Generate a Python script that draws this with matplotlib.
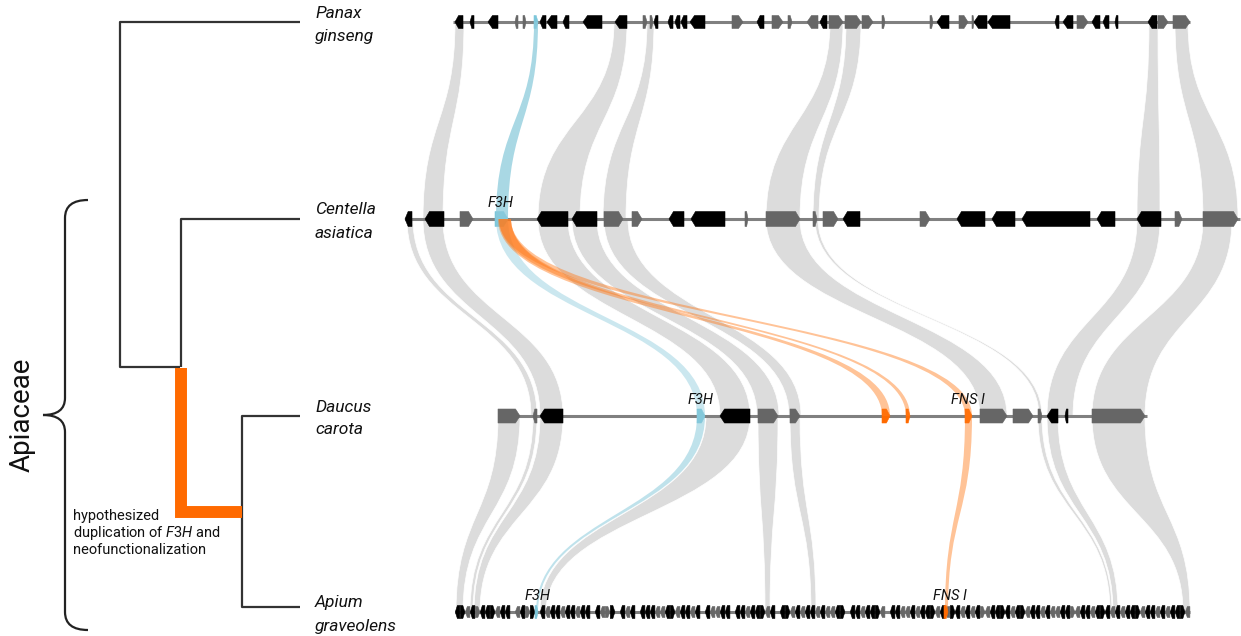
import matplotlib
matplotlib.use('Agg')
import matplotlib.pyplot as plt
from matplotlib.path import Path
from matplotlib.patches import PathPatch, Polygon

plt.rcParams['font.family'] = ['Roboto', 'DejaVu Sans']
plt.rcParams['mathtext.fontset'] = 'custom'
plt.rcParams['mathtext.rm'] = 'Roboto'
plt.rcParams['mathtext.it'] = 'Roboto:italic'

# ---------------- data ----------------
species = ['Panax\nginseng', 'Centella\nasiatica', 'Daucus\ncarota', 'Apium\ngraveolens']
track_span = [(453, 1190), (405, 1240), (498, 1147), (455, 1190)]

# genes: (start, end, strand, colour-code)  k=black g=grey b=F3H o=FNS I
panax_genes = [
    (455, 463, -1, 'k'), (470, 474, -1, 'k'), (488, 498, -1, 'k'), (515, 518, -1, 'g'),
    (523, 526, 1, 'g'), (534, 538, 1, 'b'), (540, 546, -1, 'k'), (547, 557, -1, 'k'),
    (563, 569, -1, 'k'), (583, 602, -1, 'k'), (615, 627, -1, 'k'), (643, 647, 1, 'g'),
    (650, 653, 1, 'g'), (654, 658, -1, 'k'), (668, 673, -1, 'k'), (675, 680, -1, 'k'),
    (681, 687, -1, 'k'), (690, 705, -1, 'k'), (732, 743, 1, 'g'), (757, 764, -1, 'k'),
    (772, 783, 1, 'g'), (788, 792, 1, 'g'), (807, 818, -1, 'g'), (820, 827, -1, 'k'),
    (829, 843, 1, 'g'), (845, 861, 1, 'g'), (862, 873, 1, 'g'), (882, 885, 1, 'g'),
    (930, 933, 1, 'g'), (937, 949, -1, 'k'), (959, 968, 1, 'g'), (972, 974, 1, 'g'),
    (974, 987, -1, 'k'), (988, 1010, -1, 'k'), (1055, 1059, -1, 'k'), (1063, 1073, -1, 'k'),
    (1077, 1088, 1, 'g'), (1092, 1100, -1, 'k'), (1103, 1109, -1, 'k'), (1115, 1118, -1, 'k'),
    (1148, 1157, -1, 'k'), (1158, 1168, 1, 'g'), (1173, 1190, 1, 'g'),
]
centella_genes = [
    (405, 412, -1, 'k'), (425, 444, -1, 'k'), (460, 473, 1, 'g'), (495, 508, 1, 'b'),
    (537, 568, -1, 'k'), (572, 597, -1, 'k'), (604, 623, 1, 'g'), (632, 642, 1, 'g'),
    (669, 684, -1, 'k'), (691, 725, -1, 'k'), (745, 748, 1, 'g'), (766, 800, 1, 'g'),
    (813, 817, 1, 'g'), (823, 838, 1, 'g'), (843, 860, -1, 'k'), (920, 930, 1, 'g'),
    (957, 985, -1, 'k'), (992, 1015, -1, 'k'), (1022, 1090, -1, 'k'), (1097, 1115, -1, 'k'),
    (1137, 1161, -1, 'k'), (1175, 1182, 1, 'g'), (1203, 1238, 1, 'g'),
]
daucus_genes = [
    (498, 520, 1, 'g'), (533, 537, -1, 'g'), (540, 563, -1, 'k'), (697, 705, 1, 'b'),
    (720, 750, -1, 'k'), (758, 778, 1, 'g'), (790, 800, 1, 'g'), (882, 890, 1, 'o'),
    (906, 910, 1, 'o'), (965, 972, 1, 'o'), (980, 1007, 1, 'g'), (1013, 1033, 1, 'g'),
    (1038, 1042, 1, 'g'), (1047, 1058, -1, 'k'), (1065, 1068, -1, 'k'), (1092, 1145, 1, 'g'),
]
# Apium: dense small genes, one symbol per 5-unit slot starting at 455
# '<' black reverse, '>' black forward, '(' grey reverse, ')' grey forward, '.' gap
apium_start = 455
apium_slots = ("<>(<)<<>(<" "<.(<)>.<(<" "<(<<(<<.<(" ")>.<(<.<<<" "((<>(<<(<."
               "<((<<.<<(<" "<>(<.<>(<(" "<<(<((<>.<" "<(<<>(.<<(" "(<(<<>(<(>"
               "<(<(<)(<<>" "<(<>(<<(<(" "(<<)(<<(<>" "<(<(<<>(<<" "(<(<<>(")
apium_genes_special = [(535, 538, 1, 'b'), (944, 948, 1, 'o')]

# synteny links: (upper start, upper end, lower start, lower end, colour-code)
links_panax_centella = [
    (455, 464, 423, 443, 'g'), (534, 538, 496, 508, 'b'), (614, 627, 538, 580, 'g'),
    (647, 654, 603, 626, 'g'), (830, 843, 766, 800, 'g'), (846, 861, 813, 819, 'g'),
    (1149, 1158, 1137, 1160, 'g'), (1175, 1188, 1203, 1238, 'g'),
]
links_centella_daucus = [
    (407, 413, 531, 537, 'g'), (423, 443, 540, 563, 'g'), (538, 568, 720, 750, 'g'),
    (572, 597, 757, 779, 'g'), (604, 628, 789, 801, 'g'), (766, 800, 980, 1007, 'g'),
    (815, 818, 1039, 1042, 'g'), (1137, 1160, 1047, 1073, 'g'), (1203, 1232, 1092, 1145, 'g'),
    (496, 508, 697, 705, 'b'),
    (498, 511, 882, 890, 'o'), (499, 511, 906, 910, 'o'), (499, 511, 965, 972, 'o'),
]
links_daucus_apium = [
    (498, 520, 456, 463, 'g'), (533, 537, 470, 473, 'g'), (540, 563, 474, 480, 'g'),
    (706, 750, 540, 546, 'g'), (758, 778, 765, 770, 'g'), (790, 800, 811, 816, 'g'),
    (1038, 1042, 1110, 1112, 'g'), (1047, 1058, 1113, 1118, 'g'), (1092, 1145, 1183, 1190, 'g'),
    (697, 705, 536, 538, 'b'), (965, 972, 945, 948, 'o'),
]

gene_labels = [  # (track index, x centre, text)
    (1, 501, 'F3H'), (2, 701, 'F3H'), (2, 968, 'FNS I'), (3, 538, 'F3H'), (3, 950, 'FNS I'),
]

# ---------------- styles / layout ----------------
track_y = [22, 219, 416, 612]
gene_h = [13, 15, 14, 13]
gene_col = {'k': '#000000', 'g': '#666666', 'b': '#7cc6da', 'o': '#ff6a00'}
TREE = '#333333'
ORANGE = '#ff6a00'

fig = plt.figure(figsize=(12.41, 6.36), dpi=100)
ax = fig.add_axes([0, 0, 1, 1])
ax.set_xlim(0, 1241)
ax.set_ylim(636, 0)
ax.axis('off')


def ribbon(yt, yb, a1, a2, b1, b2, fc, alpha, z, ec='none', lw=0):
    ym = (yt + yb) / 2
    verts = [(a1, yt), (a1, ym), (b1, ym), (b1, yb), (b2, yb), (b2, ym), (a2, ym), (a2, yt), (a1, yt)]
    codes = [Path.MOVETO, Path.CURVE4, Path.CURVE4, Path.CURVE4, Path.LINETO,
             Path.CURVE4, Path.CURVE4, Path.CURVE4, Path.CLOSEPOLY]
    ax.add_patch(PathPatch(Path(verts, codes), facecolor=fc, alpha=alpha,
                           edgecolor=ec, lw=lw, zorder=z))


def gene(x0, x1, strand, y, h, color, z=3):
    L = x1 - x0
    tip = min(4.5, L * 0.45)
    if strand > 0:
        pts = [(x0, y - h / 2), (x1 - tip, y - h / 2), (x1, y), (x1 - tip, y + h / 2), (x0, y + h / 2)]
    else:
        pts = [(x1, y - h / 2), (x0 + tip, y - h / 2), (x0, y), (x0 + tip, y + h / 2), (x1, y + h / 2)]
    ax.add_patch(Polygon(pts, closed=True, facecolor=color, edgecolor=color, lw=0.4, zorder=z))


# links
link_sets = [links_panax_centella, links_centella_daucus, links_daucus_apium]
blue_alpha = [0.75, 0.45, 0.55]
for i, links in enumerate(link_sets):
    yt, yb = track_y[i], track_y[i + 1]
    for (a1, a2, b1, b2, c) in links:
        if c == 'g':
            ribbon(yt, yb, a1, a2, b1, b2, '#dcdcdc', 1.0, 1, ec='white', lw=0.5)
        elif c == 'b':
            ribbon(yt, yb, a1, a2, b1, b2, '#8ccbdc', blue_alpha[i], 4)
        else:
            ribbon(yt, yb, a1, a2, b1, b2, '#ff7a1a', 0.45, 5)

# tracks
for i, (x0, x1) in enumerate(track_span):
    ax.plot([x0, x1], [track_y[i], track_y[i]], color='#808080', lw=2.2, zorder=2,
            solid_capstyle='butt')

for i, genes in enumerate([panax_genes, centella_genes, daucus_genes]):
    for (s, e, st, c) in genes:
        gene(s, e, st, track_y[i], gene_h[i], gene_col[c], z=3 if c in 'kg' else 3.5)

for k, ch in enumerate(apium_slots):
    if ch == '.':
        continue
    s = apium_start + 5 * k + 0.3
    e = s + 4.6
    st = -1 if ch in '<(' else 1
    col = gene_col['k'] if ch in '<>' else gene_col['g']
    h = 13 if ch in '<>' else 11
    gene(s, e, st, track_y[3], h, col)
for (s, e, st, c) in apium_genes_special:
    gene(s, e, st, track_y[3], 13, gene_col[c], z=6)

for (ti, xc, txt) in gene_labels:
    ax.text(xc, track_y[ti] - 16, txt, fontsize=10.5, style='italic', ha='center',
            va='center', color='#111111', zorder=7)

# species labels
for i, name in enumerate(species):
    l1, l2 = name.split('\n')
    ax.text(315, track_y[i] - 9, l1, fontsize=12.5, style='italic', va='center', ha='left', color='#111111')
    ax.text(315, track_y[i] + 14, l2, fontsize=12.5, style='italic', va='center', ha='left', color='#111111')

# tree
tl = dict(color=TREE, lw=1.6, solid_capstyle='butt', zorder=3)
ax.plot([300, 120, 120, 180], [22, 22, 367, 367], **tl)
ax.plot([300, 181, 181], [219, 219, 367], **tl)
ax.plot([300, 242, 242, 300], [416, 416, 607, 607], **tl)
ax.plot([181, 181, 242], [368, 512, 512], color=ORANGE, lw=8.6, solid_joinstyle='miter',
        solid_capstyle='butt', zorder=4)

# brace
tipx = 43
bv = [(88, 200), (65, 200), (65, 218), (65, 398), (65, 415), (tipx, 415),
      (65, 415), (65, 432), (65, 612), (65, 630), (88, 630)]
bc = [Path.MOVETO, Path.CURVE3, Path.CURVE3, Path.LINETO, Path.CURVE3, Path.CURVE3,
      Path.CURVE3, Path.CURVE3, Path.LINETO, Path.CURVE3, Path.CURVE3]
ax.add_patch(PathPatch(Path(bv, bc), facecolor='none', edgecolor='#222222', lw=1.6, zorder=3))
ax.text(22, 415, 'Apiaceae', rotation=90, fontsize=20, ha='center', va='center', color='#111111')

ax.text(73, 516, 'hypothesized', fontsize=10.5, ha='left', va='center', color='#111111')
ax.text(73, 533, 'duplication of $\\mathit{F3H}$ and', fontsize=10.5, ha='left', va='center', color='#111111')
ax.text(73, 550, 'neofunctionalization', fontsize=10.5, ha='left', va='center', color='#111111')

fig.savefig('out.png', dpi=100, facecolor='white')
